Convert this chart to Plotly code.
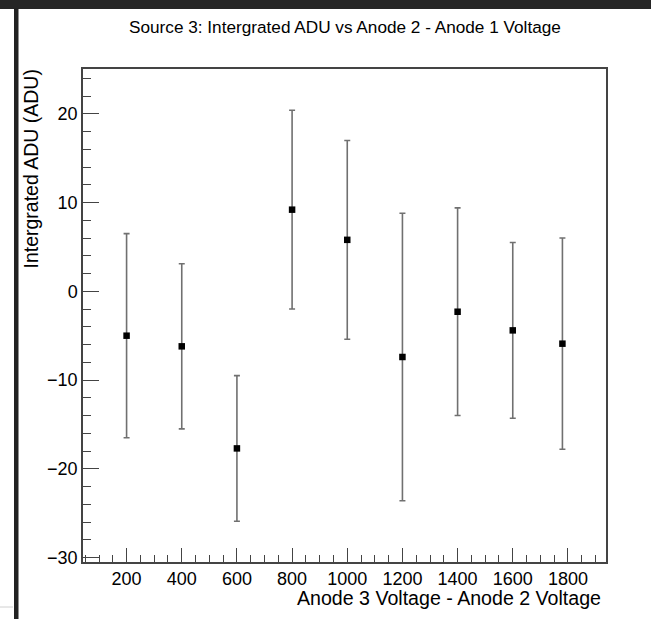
import plotly.graph_objects as go

# Data
x_volt = [200, 400, 600, 800, 1000, 1200, 1400, 1600, 1780]
y_adu = [-5.0, -6.2, -17.7, 9.2, 5.8, -7.4, -2.3, -4.4, -5.9]
y_err = [11.5, 9.3, 8.2, 11.2, 11.2, 16.2, 11.7, 9.9, 11.9]

W, H = 651, 619
L, R, T, B = 83, 45, 69, 57
pw, ph = W - L - R, H - T - B

def px2x(px):
    return (px - L) / pw

def py2y(py):
    return (H - B - py) / ph

FONT = "Liberation Sans, Arial, Helvetica, sans-serif"
AX = "#444444"

fig = go.Figure()
fig.add_trace(go.Scatter(
    x=x_volt, y=y_adu, mode="markers",
    marker=dict(symbol="square", size=6.5, color="black"),
    error_y=dict(type="data", array=y_err, visible=True,
                 color="#707070", thickness=1.6, width=3),
    showlegend=False,
))

fig.update_layout(
    width=W, height=H,
    margin=dict(l=L, r=R, t=T, b=B, pad=0),
    paper_bgcolor="white", plot_bgcolor="white",
    font=dict(family=FONT, color="black"),
    xaxis=dict(range=[42, 1938], tickmode="linear", tick0=0, dtick=200,
               ticks="inside", ticklen=14, tickcolor=AX, tickwidth=1.2,
               minor=dict(dtick=50, tick0=0, ticks="inside", ticklen=7,
                          tickcolor=AX, tickwidth=1.2),
               showline=True, linecolor=AX, linewidth=1.5, mirror=True,
               showgrid=False, zeroline=False,
               tickfont=dict(size=18, family=FONT, color="black")),
    yaxis=dict(range=[-30.5, 25.05], tickmode="linear", tick0=0, dtick=10,
               ticks="inside", ticklen=16, tickcolor=AX, tickwidth=1.2,
               minor=dict(dtick=2, tick0=0, ticks="inside", ticklen=8,
                          tickcolor=AX, tickwidth=1.2),
               showline=True, linecolor=AX, linewidth=1.5, mirror=True,
               showgrid=False, zeroline=False,
               tickfont=dict(size=18, family=FONT, color="black")),
)

fig.add_annotation(text="Source 3: Intergrated ADU vs Anode 2 - Anode 1 Voltage",
                   xref="paper", yref="paper", x=0.5, y=py2y(27),
                   xanchor="center", yanchor="middle", showarrow=False,
                   font=dict(size=17.2, family=FONT, color="black"))
fig.add_annotation(text="Anode 3 Voltage - Anode 2 Voltage",
                   xref="paper", yref="paper", x=px2x(603), y=py2y(598),
                   xanchor="right", yanchor="middle", showarrow=False,
                   font=dict(size=19.6, family=FONT, color="black"))
fig.add_annotation(text="Intergrated ADU (ADU)", textangle=-90,
                   xref="paper", yref="paper", x=px2x(31), y=py2y(68),
                   xanchor="center", yanchor="top", showarrow=False,
                   font=dict(size=19.5, family=FONT, color="black"))

# window chrome: dark top band and left bar
fig.add_shape(type="rect", xref="paper", yref="paper",
              x0=px2x(-5), x1=px2x(W + 5), y0=py2y(9), y1=py2y(-5),
              fillcolor="#262626", line_width=0, layer="above")
fig.add_shape(type="rect", xref="paper", yref="paper",
              x0=px2x(14), x1=px2x(18.5), y0=py2y(H + 5), y1=py2y(8),
              fillcolor="#222222", line_width=0, layer="above")
fig.add_shape(type="line", xref="paper", yref="paper",
              x0=px2x(0), x1=px2x(13), y0=py2y(607), y1=py2y(607),
              line=dict(color="#d0d0d0", width=1), layer="above")

fig.write_html("out.html")
